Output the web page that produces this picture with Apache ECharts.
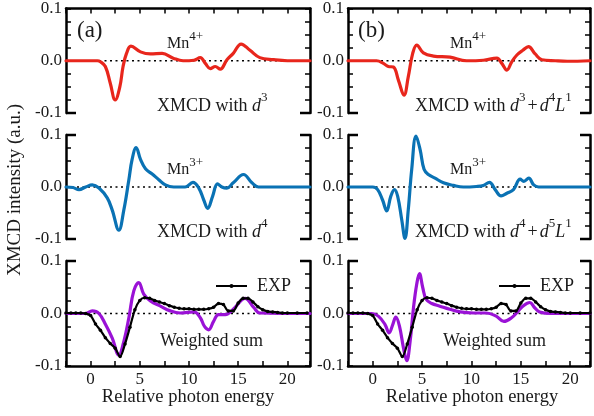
<!DOCTYPE html>
<html>
<head>
<meta charset="utf-8">
<script src="https://cdn.jsdelivr.net/npm/echarts@6/dist/echarts.min.js"></script>
<style>
  html, body { margin: 0; padding: 0; background: #fff; }
  #chart { width: 594px; height: 416px; }
</style>
</head>
<body>
<div id="chart"></div>
<script>
// XMCD spectra: [relative photon energy, intensity (a.u.)]
const mn4Single = [[-2.5,0],[0,0],[0.7,0],[1.0,-0.002],[1.5,-0.011],[2.0,-0.043],[2.5,-0.075],[2.97,-0.05],[3.3,-0.011],[3.65,0.014],[4.1,0.028],[5.07,0.017],[6.08,0.013],[7.27,0.014],[8.4,0.005],[9.4,0.0],[10.5,0.001],[11.15,0.006],[11.66,-0.005],[12.16,-0.015],[12.67,-0.011],[13.18,-0.016],[13.86,0.002],[14.5,0.014],[15.3,0.032],[16.2,0.02],[17.2,0.006],[18.6,0.002],[20,0],[22.3,0]];
const mn4Mixed = [[-2.5,0],[0.4,0],[1.08,-0.005],[1.58,-0.011],[2.09,-0.012],[2.6,-0.037],[3.17,-0.066],[3.6,-0.031],[4.05,0.014],[4.46,0.030],[5.13,0.015],[6.15,0.009],[7.84,0.007],[9.5,0],[11.2,0.001],[12.57,0.005],[13.07,-0.005],[13.58,-0.018],[14.08,-0.002],[14.6,0.011],[15.2,0.02],[15.77,0.027],[16.45,0.013],[17.13,0.002],[18.5,0.0],[19.7,-0.001],[22,0]];
const mn3Single = [[-2.5,0],[-1.8,-0.001],[-1.18,-0.005],[-0.5,0],[0.17,0.004],[0.85,-0.002],[1.69,-0.021],[2.19,-0.044],[2.87,-0.083],[3.38,-0.044],[3.89,0.014],[4.22,0.053],[4.63,0.076],[5.07,0.053],[5.58,0.035],[6.26,0.025],[6.93,0.014],[7.6,0.004],[8.45,0],[9.6,0],[10.4,0.009],[11.0,-0.002],[11.5,-0.025],[11.9,-0.041],[12.4,-0.018],[12.9,0.006],[13.34,0],[13.85,-0.002],[14.5,0.008],[15.54,0.024],[16.4,0.008],[17.06,0],[22.3,0]];
const mn3Mixed = [[-2.5,0],[0,0],[0.5,-0.005],[1.0,-0.025],[1.42,-0.046],[1.83,-0.018],[2.2,-0.005],[2.53,-0.018],[2.94,-0.063],[3.27,-0.099],[3.6,-0.044],[3.95,0.034],[4.39,0.098],[4.8,0.072],[5.2,0.034],[5.64,0.024],[6.31,0.017],[7.16,0.008],[8.17,0.003],[9.18,0],[10.5,0.001],[11.2,0.003],[11.82,0.009],[12.4,-0.005],[13.0,-0.017],[13.58,-0.012],[14.25,-0.005],[14.93,0.015],[15.3,0.011],[15.8,0.017],[16.3,0.004],[16.8,0],[22,0]];
const sumSingle = [[-2.5,0],[-0.5,0],[0.17,0.005],[0.85,0],[1.52,-0.021],[2.2,-0.047],[2.87,-0.079],[3.38,-0.053],[3.89,-0.008],[4.39,0.043],[4.9,0.059],[5.4,0.037],[6.08,0.024],[7.1,0.014],[8.1,0.005],[9.1,0.001],[10.5,0.003],[11.15,-0.008],[11.56,-0.024],[12.0,-0.031],[12.5,-0.015],[13.0,-0.002],[13.7,-0.002],[14.5,0.008],[15.7,0.029],[16.6,0.011],[17.2,0.001],[22.3,0]];
const sumMixed = [[-2.5,0],[-0.1,0],[0.57,-0.005],[1.25,-0.021],[1.66,-0.037],[2.03,-0.021],[2.34,-0.007],[2.71,-0.024],[3.12,-0.066],[3.45,-0.090],[3.79,-0.053],[4.13,0.011],[4.46,0.056],[4.73,0.076],[5.07,0.049],[5.41,0.027],[5.98,0.019],[6.8,0.014],[7.8,0.008],[8.85,0.003],[10.2,0.001],[11.5,0.001],[12.5,-0.005],[13.28,-0.015],[14.06,-0.008],[14.7,0.004],[15.2,0.014],[15.9,0.021],[16.4,0.011],[16.9,0.003],[18,0],[22,0]];
const expMeasured = [[-2.5,0.001],[-2.0,0.001],[-1.5,0.001],[-1.0,0.001],[-0.5,0.0],[0.0,-0.004],[0.5,-0.020],[1.0,-0.032],[1.5,-0.046],[2.0,-0.057],[2.5,-0.066],[3.0,-0.082],[3.5,-0.058],[4.0,-0.026],[4.5,0.007],[5.0,0.025],[5.5,0.030],[6.0,0.029],[6.5,0.025],[7.0,0.022],[7.5,0.019],[8.0,0.015],[8.5,0.012],[9.0,0.010],[9.5,0.009],[10.0,0.009],[10.5,0.008],[11.0,0.008],[11.5,0.008],[12.0,0.009],[12.5,0.012],[13.0,0.019],[13.5,0.017],[14.0,0.005],[14.5,0.005],[15.0,0.020],[15.5,0.029],[16.0,0.029],[16.5,0.022],[17.0,0.013],[17.5,0.007],[18.0,0.004],[18.5,0.003],[19.0,0.002],[19.5,0.001],[20.0,0.001],[21.0,0.001],[22.0,0.001]];

const yTickLabels = { '0.1': '0.1', '0': '0.0', '-0.1': '-0.1' };
const xTickLabels = ['0', '5', '10', '15', '20'];

const FONT = "'Liberation Serif', 'DejaVu Serif', 'Times New Roman', serif";
const INK = '#1a1a1a';
const RED = '#e8261c', BLUE = '#0a72b4', PURPLE = '#9a12d6';

// panel layout: two columns, three rows
const cols = [
  { left: 66, right: 310, max: 22.3 },
  { left: 348, right: 590, max: 22 }
];
const rows = [
  { top: 8, h: 105 },
  { top: 135, h: 104 },
  { top: 261, h: 105 }
];

const panelSeries = [
  [{ data: mn4Single, color: RED }],
  [{ data: mn4Mixed, color: RED }],
  [{ data: mn3Single, color: BLUE }],
  [{ data: mn3Mixed, color: BLUE }],
  [{ data: sumSingle, color: PURPLE }, { data: expMeasured, exp: true }],
  [{ data: sumMixed, color: PURPLE }, { data: expMeasured, exp: true }]
];

const grid = [], xAxis = [], yAxis = [], series = [], graphic = [];

function yFmt(v) {
  const k = String(Math.round(v * 1000) / 1000);
  return yTickLabels[k] !== undefined ? yTickLabels[k] : '';
}
function xFmt(v) {
  const s = String(Math.round(v * 100) / 100);
  return xTickLabels.indexOf(s) >= 0 ? s : '';
}

function stub(x1, y, x2) {
  graphic.push({
    type: 'line', silent: true, z: 10,
    shape: { x1: x1, y1: y, x2: x2, y2: y },
    style: { stroke: '#000', lineWidth: 2.5 }
  });
}

for (let r = 0; r < 3; r++) {
  for (let c = 0; c < 2; c++) {
    const i = r * 2 + c;
    const col = cols[c], row = rows[r];
    grid.push({ left: col.left, top: row.top, width: col.right - col.left, height: row.h, containLabel: false });

    xAxis.push({
      type: 'value', gridIndex: i, min: -2.5, max: col.max, interval: 2.5,
      show: r !== 1,
      position: r === 0 ? 'top' : 'bottom',
      axisLine: { show: true, onZero: false, lineStyle: { color: '#000', width: 2.5 } },
      axisTick: { show: true, inside: true, length: 5, lineStyle: { color: '#000', width: 1.5 } },
      axisLabel: {
        show: r === 2, formatter: xFmt, margin: 5,
        fontFamily: FONT, fontSize: 17, color: INK
      },
      splitLine: { show: false }
    });

    const yBase = {
      type: 'value', gridIndex: i, min: -0.1, max: 0.1, interval: 0.025,
      axisLine: { show: true, onZero: false, lineStyle: { color: '#000', width: 2.5 } },
      axisTick: { show: true, inside: true, length: 5, lineStyle: { color: '#000', width: 1.5 } },
      splitLine: { show: false }
    };
    yAxis.push(Object.assign({}, yBase, {
      position: 'left',
      axisLabel: { show: true, formatter: yFmt, margin: 4, fontFamily: FONT, fontSize: 17, color: INK }
    }));
    yAxis.push(Object.assign({}, yBase, {
      position: 'right',
      axisLabel: { show: false }
    }));

    // dotted zero reference
    series.push({
      type: 'line', xAxisIndex: i, yAxisIndex: 2 * i, z: 1,
      data: [[-2.5, 0], [col.max, 0]],
      symbol: 'none', silent: true,
      lineStyle: { color: '#000', width: 1.6, type: [2, 3.5] }
    });

    panelSeries[i].forEach(function (s) {
      if (s.exp) {
        series.push({
          name: 'EXP', type: 'line', xAxisIndex: i, yAxisIndex: 2 * i, z: 4,
          data: s.data, smooth: 0.3, symbol: 'circle', symbolSize: 3.5,
          showSymbol: true,
          itemStyle: { color: '#000' },
          lineStyle: { color: '#000', width: 2.2 }
        });
      } else {
        series.push({
          type: 'line', xAxisIndex: i, yAxisIndex: 2 * i, z: 3,
          data: s.data, smooth: 0.4, symbol: 'none',
          lineStyle: { color: s.color, width: 3.2, cap: 'round', join: 'round' }
        });
      }
    });

    // short bracket stubs where panels meet
    const top = row.top, bottom = row.top + row.h;
    if (r !== 0) { stub(col.left, top, col.left + 10); stub(col.right - 10, top, col.right); }
    if (r !== 2) { stub(col.left, bottom, col.left + 10); stub(col.right - 10, bottom, col.right); }
  }
}

// text annotations with superscripts
const rich = {
  b: { fontFamily: FONT, fontSize: 18, fill: INK, lineHeight: 24, verticalAlign: 'bottom' },
  p: { fontFamily: FONT, fontSize: 18, fill: INK, lineHeight: 24, verticalAlign: 'bottom', padding: [0, 2, 0, 2] },
  i: { fontFamily: FONT, fontSize: 18, fill: INK, fontStyle: 'italic', lineHeight: 24, verticalAlign: 'bottom' },
  s: { fontFamily: FONT, fontSize: 13, fill: INK, lineHeight: 15, verticalAlign: 'top' },
  m: { fontFamily: FONT, fontSize: 16, fill: INK, lineHeight: 22, verticalAlign: 'bottom' },
  ms: { fontFamily: FONT, fontSize: 13, fill: INK, lineHeight: 14, verticalAlign: 'top' }
};
function note(x, y, text, size) {
  graphic.push({
    type: 'text', x: x, y: y, z: 20, silent: true,
    style: { text: text, rich: rich, fontFamily: FONT, fontSize: size || 18, fill: INK, verticalAlign: 'middle', align: 'left' }
  });
}

note(77, 31, '(a)', 23);
note(358, 31, '(b)', 23);
note(167, 41, '{m|Mn}{ms|4+}');
note(450, 41, '{m|Mn}{ms|4+}');
note(167, 167, '{m|Mn}{ms|3+}');
note(450, 167, '{m|Mn}{ms|3+}');
note(157, 103, '{b|XMCD with }{i|d}{s|3}');
note(415, 103, '{b|XMCD with }{i|d}{s|3}{p|+}{i|d}{s|4}{i|L}{s|1}');
note(157, 229, '{b|XMCD with }{i|d}{s|4}');
note(415, 229, '{b|XMCD with }{i|d}{s|4}{p|+}{i|d}{s|5}{i|L}{s|1}');
note(160, 341, 'Weighted sum');
note(443, 341, 'Weighted sum');

graphic.push({
  type: 'text', x: 188, y: 397, z: 20, silent: true,
  style: { text: 'Relative photon energy', fontFamily: FONT, fontSize: 18.5, fill: INK, align: 'center', verticalAlign: 'middle' }
});
graphic.push({
  type: 'text', x: 472, y: 397, z: 20, silent: true,
  style: { text: 'Relative photon energy', fontFamily: FONT, fontSize: 18.5, fill: INK, align: 'center', verticalAlign: 'middle' }
});
graphic.push({
  type: 'text', x: 15, y: 190, rotation: Math.PI / 2, z: 20, silent: true,
  style: { text: 'XMCD intensity (a.u.)', fontFamily: FONT, fontSize: 19, fill: INK, align: 'center', verticalAlign: 'middle' }
});

const legendBase = {
  data: ['EXP'], orient: 'horizontal', selectedMode: false,
  padding: 0, itemWidth: 31, itemHeight: 5,
  textStyle: { fontFamily: FONT, fontSize: 18, color: INK, padding: [0, 0, 0, 5] }
};

const chart = echarts.init(document.getElementById('chart'), null, { renderer: 'canvas' });
chart.setOption({
  animation: false,
  backgroundColor: '#fff',
  grid: grid,
  xAxis: xAxis,
  yAxis: yAxis,
  series: series,
  legend: [
    Object.assign({ left: 215, top: 277 }, legendBase),
    Object.assign({ left: 498, top: 277 }, legendBase)
  ],
  graphic: graphic
});
</script>
</body>
</html>
